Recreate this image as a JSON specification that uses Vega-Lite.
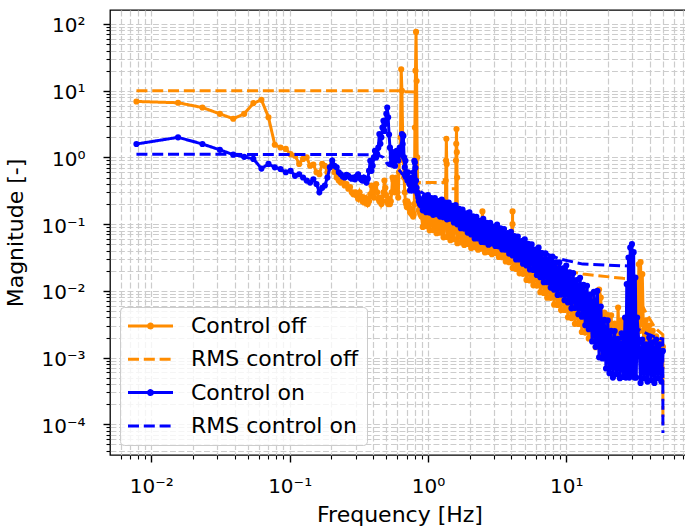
{
  "$schema": "https://vega.github.io/schema/vega-lite/v6.json",
  "width": 579,
  "height": 445,
  "autosize": "none",
  "padding": {"left": 110, "top": 10, "right": -4, "bottom": 76},
  "background": "#ffffff",
  "config": {
    "font": "DejaVu Sans",
    "view": {"stroke": "#000000", "strokeWidth": 1.3}
  },
  "datasets": {
    "off": [
      {"s":"Control off","f":0.0078,"m":6.9},{"s":"Control off","f":0.0156,"m":6.6},{"s":"Control off","f":0.0234,"m":5.6},{"s":"Control off","f":0.0313,"m":4.5},
      {"s":"Control off","f":0.0391,"m":3.8},{"s":"Control off","f":0.0469,"m":4.5},{"s":"Control off","f":0.0547,"m":6.5},{"s":"Control off","f":0.0625,"m":7.3},
      {"s":"Control off","f":0.0703,"m":4.0},{"s":"Control off","f":0.0781,"m":1.55},{"s":"Control off","f":0.0859,"m":1.41},{"s":"Control off","f":0.0938,"m":1.34},
      {"s":"Control off","f":0.1016,"m":1.12},{"s":"Control off","f":0.1094,"m":1.06},{"s":"Control off","f":0.1172,"m":0.8},{"s":"Control off","f":0.125,"m":0.95},
      {"s":"Control off","f":0.1328,"m":1.0},{"s":"Control off","f":0.1406,"m":0.75},{"s":"Control off","f":0.1484,"m":0.78},{"s":"Control off","f":0.1563,"m":0.6},
      {"s":"Control off","f":0.1641,"m":0.56},{"s":"Control off","f":0.1719,"m":0.8},{"s":"Control off","f":0.1797,"m":0.75},{"s":"Control off","f":0.1875,"m":0.6},
      {"s":"Control off","f":0.1953,"m":0.71},{"s":"Control off","f":0.2031,"m":0.8},{"s":"Control off","f":0.2109,"m":0.6},{"s":"Control off","f":0.2188,"m":0.5},
      {"s":"Control off","f":0.2266,"m":0.45},{"s":"Control off","f":0.2344,"m":0.42},{"s":"Control off","f":0.2422,"m":0.45},{"s":"Control off","f":0.25,"m":0.38},
      {"s":"Control off","f":0.2578,"m":0.4},{"s":"Control off","f":0.2656,"m":0.34},{"s":"Control off","f":0.2734,"m":0.36},{"s":"Control off","f":0.2813,"m":0.3},
      {"s":"Control off","f":0.2891,"m":0.28},{"s":"Control off","f":0.2969,"m":0.3},{"s":"Control off","f":0.3047,"m":0.27},{"s":"Control off","f":0.3125,"m":0.24},
      {"s":"Control off","f":0.3203,"m":0.3},{"s":"Control off","f":0.3281,"m":0.26},{"s":"Control off","f":0.3359,"m":0.22},{"s":"Control off","f":0.3438,"m":0.25},
      {"s":"Control off","f":0.3516,"m":0.21},{"s":"Control off","f":0.3594,"m":0.24},{"s":"Control off","f":0.3672,"m":0.2},{"s":"Control off","f":0.375,"m":0.22},
      {"s":"Control off","f":0.3828,"m":0.28},{"s":"Control off","f":0.3906,"m":0.38},{"s":"Control off","f":0.3984,"m":0.3},{"s":"Control off","f":0.4063,"m":0.25},
      {"s":"Control off","f":0.4141,"m":0.35},{"s":"Control off","f":0.4219,"m":0.4},{"s":"Control off","f":0.4297,"m":0.3},{"s":"Control off","f":0.4375,"m":0.24},
      {"s":"Control off","f":0.4453,"m":0.22},{"s":"Control off","f":0.4531,"m":0.25},{"s":"Control off","f":0.4609,"m":0.2},{"s":"Control off","f":0.4688,"m":0.22},
      {"s":"Control off","f":0.4766,"m":0.3},{"s":"Control off","f":0.4844,"m":0.45},{"s":"Control off","f":0.4922,"m":0.35},{"s":"Control off","f":0.5,"m":0.27},
      {"s":"Control off","f":0.5078,"m":0.22},{"s":"Control off","f":0.5156,"m":0.2},{"s":"Control off","f":0.5234,"m":0.24},{"s":"Control off","f":0.5313,"m":0.2},
      {"s":"Control off","f":0.5391,"m":0.22},{"s":"Control off","f":0.5469,"m":0.3},{"s":"Control off","f":0.5547,"m":0.5},{"s":"Control off","f":0.5625,"m":0.45},
      {"s":"Control off","f":0.5703,"m":0.35},{"s":"Control off","f":0.5781,"m":0.3},{"s":"Control off","f":0.5859,"m":0.4},{"s":"Control off","f":0.5938,"m":0.5},
      {"s":"Control off","f":0.6016,"m":0.3},{"s":"Control off","f":0.6094,"m":0.25},{"s":"Control off","f":0.6172,"m":0.6},{"s":"Control off","f":0.625,"m":1.1},
      {"s":"Control off","f":0.6328,"m":2.0},{"s":"Control off","f":0.6406,"m":21},{"s":"Control off","f":0.6484,"m":10},{"s":"Control off","f":0.6563,"m":2.2},
      {"s":"Control off","f":0.6641,"m":0.9},{"s":"Control off","f":0.6719,"m":0.5},{"s":"Control off","f":0.6797,"m":0.3},{"s":"Control off","f":0.6875,"m":0.22},
      {"s":"Control off","f":0.6953,"m":0.2},{"s":"Control off","f":0.7031,"m":0.18},{"s":"Control off","f":0.7109,"m":0.22},{"s":"Control off","f":0.7188,"m":0.19},
      {"s":"Control off","f":0.7266,"m":0.2},{"s":"Control off","f":0.7344,"m":0.17},{"s":"Control off","f":0.7422,"m":0.15},{"s":"Control off","f":0.75,"m":0.17},
      {"s":"Control off","f":0.7578,"m":0.16},{"s":"Control off","f":0.7656,"m":0.14},{"s":"Control off","f":0.7734,"m":0.15},{"s":"Control off","f":0.7813,"m":0.13},
      {"s":"Control off","f":0.7891,"m":0.14},{"s":"Control off","f":0.7969,"m":0.2},{"s":"Control off","f":0.8047,"m":2.8},{"s":"Control off","f":0.8125,"m":20},
      {"s":"Control off","f":0.8203,"m":76},{"s":"Control off","f":0.8281,"m":14},{"s":"Control off","f":0.8359,"m":1.0},{"s":"Control off","f":0.8438,"m":0.3},
      {"s":"Control off","f":0.8516,"m":0.2},{"s":"Control off","f":0.8594,"m":0.16},{"s":"Control off","f":0.8672,"m":0.17},{"s":"Control off","f":0.875,"m":0.15},
      {"s":"Control off","f":0.8828,"m":0.14},{"s":"Control off","f":0.8906,"m":0.16},{"s":"Control off","f":0.8984,"m":0.13},
      {"s":"Control off","f":0.9173,"m":0.0908},{"s":"Control off","f":0.9441,"m":0.208},{"s":"Control off","f":0.9716,"m":0.0935},{"s":"Control off","f":1.0,"m":0.208},
      {"s":"Control off","f":1.029,"m":0.0807},{"s":"Control off","f":1.059,"m":0.208},{"s":"Control off","f":1.09,"m":0.0815},{"s":"Control off","f":1.122,"m":0.176},
      {"s":"Control off","f":1.155,"m":0.0731},{"s":"Control off","f":1.189,"m":0.176},{"s":"Control off","f":1.223,"m":0.0745},{"s":"Control off","f":1.259,"m":0.171},
      {"s":"Control off","f":1.296,"m":0.0634},{"s":"Control off","f":1.334,"m":0.171},
      {"s":"Control off","f":1.344,"m":0.45},{"s":"Control off","f":1.352,"m":0.9},{"s":"Control off","f":1.359,"m":1.9},{"s":"Control off","f":1.367,"m":0.8},
      {"s":"Control off","f":1.373,"m":0.0641},{"s":"Control off","f":1.413,"m":0.144},{"s":"Control off","f":1.454,"m":0.0574},{"s":"Control off","f":1.496,"m":0.144},
      {"s":"Control off","f":1.54,"m":0.0597},{"s":"Control off","f":1.585,"m":0.139},
      {"s":"Control off","f":1.594,"m":0.9},{"s":"Control off","f":1.602,"m":1.6},{"s":"Control off","f":1.609,"m":2.67},{"s":"Control off","f":1.617,"m":1.2},{"s":"Control off","f":1.625,"m":0.5},
      {"s":"Control off","f":1.631,"m":0.0519},{"s":"Control off","f":1.679,"m":0.138},{"s":"Control off","f":1.728,"m":0.0533},{"s":"Control off","f":1.778,"m":0.116},
      {"s":"Control off","f":1.83,"m":0.0488},{"s":"Control off","f":1.884,"m":0.116},{"s":"Control off","f":1.939,"m":0.0506},{"s":"Control off","f":1.995,"m":0.112},
      {"s":"Control off","f":2.054,"m":0.0441},{"s":"Control off","f":2.113,"m":0.111},{"s":"Control off","f":2.175,"m":0.0452},{"s":"Control off","f":2.239,"m":0.0944},
      {"s":"Control off","f":2.304,"m":0.0414},{"s":"Control off","f":2.371,"m":0.0938},{"s":"Control off","f":2.441,"m":0.0429},{"s":"Control off","f":2.477,"m":0.155},
      {"s":"Control off","f":2.512,"m":0.0912},{"s":"Control off","f":2.585,"m":0.0376},{"s":"Control off","f":2.661,"m":0.0912},{"s":"Control off","f":2.738,"m":0.0385},
      {"s":"Control off","f":2.818,"m":0.0782},{"s":"Control off","f":2.901,"m":0.0355},{"s":"Control off","f":2.985,"m":0.0782},{"s":"Control off","f":3.073,"m":0.0366},
      {"s":"Control off","f":3.162,"m":0.076},{"s":"Control off","f":3.255,"m":0.0322},{"s":"Control off","f":3.35,"m":0.0759},{"s":"Control off","f":3.447,"m":0.032},
      {"s":"Control off","f":3.548,"m":0.0631},{"s":"Control off","f":3.652,"m":0.0276},{"s":"Control off","f":3.758,"m":0.0611},{"s":"Control off","f":3.868,"m":0.0269},
      {"s":"Control off","f":3.981,"m":0.0575},{"s":"Control off","f":4.086,"m":0.1},{"s":"Control off","f":4.092,"m":0.155},
      {"s":"Control off","f":4.097,"m":0.0221},{"s":"Control off","f":4.217,"m":0.056},{"s":"Control off","f":4.34,"m":0.0213},{"s":"Control off","f":4.467,"m":0.0459},
      {"s":"Control off","f":4.597,"m":0.0183},{"s":"Control off","f":4.732,"m":0.0447},{"s":"Control off","f":4.87,"m":0.018},{"s":"Control off","f":5.012,"m":0.0423},
      {"s":"Control off","f":5.158,"m":0.0146},{"s":"Control off","f":5.309,"m":0.0413},{"s":"Control off","f":5.464,"m":0.0143},{"s":"Control off","f":5.623,"m":0.0335},
      {"s":"Control off","f":5.788,"m":0.0121},{"s":"Control off","f":5.957,"m":0.0327},{"s":"Control off","f":6.131,"m":0.012},{"s":"Control off","f":6.31,"m":0.031},
      {"s":"Control off","f":6.494,"m":0.00955},{"s":"Control off","f":6.683,"m":0.0304},{"s":"Control off","f":6.879,"m":0.00933},{"s":"Control off","f":7.079,"m":0.0243},
      {"s":"Control off","f":7.286,"m":0.00791},{"s":"Control off","f":7.499,"m":0.0239},{"s":"Control off","f":7.718,"m":0.00787},{"s":"Control off","f":7.943,"m":0.0226},
      {"s":"Control off","f":8.175,"m":0.00621},{"s":"Control off","f":8.414,"m":0.0224},{"s":"Control off","f":8.66,"m":0.00614},{"s":"Control off","f":8.913,"m":0.0176},
      {"s":"Control off","f":9.173,"m":0.00515},{"s":"Control off","f":9.441,"m":0.0174},{"s":"Control off","f":9.716,"m":0.00518},{"s":"Control off","f":10.0,"m":0.0166},
      {"s":"Control off","f":10.29,"m":0.00401},{"s":"Control off","f":10.59,"m":0.016},{"s":"Control off","f":10.9,"m":0.00391},{"s":"Control off","f":11.22,"m":0.012},
      {"s":"Control off","f":11.55,"m":0.00321},{"s":"Control off","f":11.89,"m":0.0116},{"s":"Control off","f":12.23,"m":0.00319},{"s":"Control off","f":12.59,"m":0.0107},
      {"s":"Control off","f":12.96,"m":0.00242},{"s":"Control off","f":13.34,"m":0.0104},{"s":"Control off","f":13.73,"m":0.00237},{"s":"Control off","f":14.13,"m":0.00776},
      {"s":"Control off","f":14.54,"m":0.00194},{"s":"Control off","f":14.96,"m":0.00752},{"s":"Control off","f":15.4,"m":0.00194},{"s":"Control off","f":15.85,"m":0.00693},
      {"s":"Control off","f":16.31,"m":0.00143},{"s":"Control off","f":16.79,"m":0.00668},{"s":"Control off","f":17.28,"m":0.0105},{"s":"Control off","f":17.78,"m":0.00794},
      {"s":"Control off","f":18.3,"m":0.00107},{"s":"Control off","f":18.84,"m":0.00472},{"s":"Control off","f":19.39,"m":0.00109},{"s":"Control off","f":19.95,"m":0.00435},
      {"s":"Control off","f":20.54,"m":0.000794},{"s":"Control off","f":21.13,"m":0.0043},{"s":"Control off","f":21.75,"m":0.00083},{"s":"Control off","f":22.39,"m":0.00324},
      {"s":"Control off","f":23.04,"m":0.000705},{"s":"Control off","f":23.71,"m":0.00562},{"s":"Control off","f":24.41,"m":0.00075},{"s":"Control off","f":25.12,"m":0.00363},
      {"s":"Control off","f":25.85,"m":0.000708},{"s":"Control off","f":26.61,"m":0.00316},{"s":"Control off","f":27.38,"m":0.000708},{"s":"Control off","f":28.18,"m":0.00282},
      {"s":"Control off","f":29.01,"m":0.000631},{"s":"Control off","f":29.85,"m":0.00355},{"s":"Control off","f":30.73,"m":0.000794},{"s":"Control off","f":31.62,"m":0.0063},
      {"s":"Control off","f":32.55,"m":0.0126},{"s":"Control off","f":33.02,"m":0.00126},{"s":"Control off","f":33.5,"m":0.0251},{"s":"Control off","f":33.98,"m":0.00251},
      {"s":"Control off","f":34.47,"m":0.0269},{"s":"Control off","f":34.99,"m":0.00316},{"s":"Control off","f":35.48,"m":0.0178},{"s":"Control off","f":36.52,"m":0.000794},
      {"s":"Control off","f":37.58,"m":0.00363},{"s":"Control off","f":38.68,"m":0.000708},{"s":"Control off","f":39.81,"m":0.00302},{"s":"Control off","f":40.97,"m":0.000631},
      {"s":"Control off","f":42.17,"m":0.00251},{"s":"Control off","f":43.4,"m":0.000794},{"s":"Control off","f":44.67,"m":0.00209},{"s":"Control off","f":45.97,"m":0.000631},
      {"s":"Control off","f":47.32,"m":0.00174},{"s":"Control off","f":48.7,"m":0.000708},{"s":"Control off","f":50.0,"m":0.00145}
    ],
    "offrms": [
      {"s":"RMS control off","f":0.0078,"m":10.0},{"s":"RMS control off","f":0.6406,"m":10.0},{"s":"RMS control off","f":0.6484,"m":9.7},
      {"s":"RMS control off","f":0.8125,"m":9.6},{"s":"RMS control off","f":0.8281,"m":0.42},{"s":"RMS control off","f":1.344,"m":0.42},
      {"s":"RMS control off","f":1.359,"m":0.34},{"s":"RMS control off","f":1.609,"m":0.34},{"s":"RMS control off","f":1.625,"m":0.12},
      {"s":"RMS control off","f":2.0,"m":0.085},{"s":"RMS control off","f":3.0,"m":0.05},{"s":"RMS control off","f":5.0,"m":0.03},
      {"s":"RMS control off","f":7.0,"m":0.024},{"s":"RMS control off","f":8.5,"m":0.0213},{"s":"RMS control off","f":13.2,"m":0.0179},
      {"s":"RMS control off","f":25.7,"m":0.0154},{"s":"RMS control off","f":33.0,"m":0.015},{"s":"RMS control off","f":35.5,"m":0.006},
      {"s":"RMS control off","f":38.2,"m":0.0045},{"s":"RMS control off","f":43.8,"m":0.0028},{"s":"RMS control off","f":49.9,"m":0.0022},
      {"s":"RMS control off","f":50.0,"m":0.0001}
    ],
    "on": [
      {"s":"Control on","f":0.0078,"m":1.59},{"s":"Control on","f":0.0156,"m":2.0},{"s":"Control on","f":0.0234,"m":1.59},{"s":"Control on","f":0.0313,"m":1.3},
      {"s":"Control on","f":0.0391,"m":1.1},{"s":"Control on","f":0.0469,"m":1.02},{"s":"Control on","f":0.0547,"m":0.95},{"s":"Control on","f":0.0625,"m":0.68},
      {"s":"Control on","f":0.0703,"m":0.8},{"s":"Control on","f":0.0781,"m":0.71},{"s":"Control on","f":0.0859,"m":0.67},{"s":"Control on","f":0.0938,"m":0.6},
      {"s":"Control on","f":0.1016,"m":0.63},{"s":"Control on","f":0.1094,"m":0.53},{"s":"Control on","f":0.1172,"m":0.56},{"s":"Control on","f":0.125,"m":0.5},
      {"s":"Control on","f":0.1328,"m":0.45},{"s":"Control on","f":0.1406,"m":0.42},{"s":"Control on","f":0.1484,"m":0.47},{"s":"Control on","f":0.1563,"m":0.4},
      {"s":"Control on","f":0.1641,"m":0.3},{"s":"Control on","f":0.1719,"m":0.35},{"s":"Control on","f":0.1797,"m":0.38},{"s":"Control on","f":0.1875,"m":0.5},
      {"s":"Control on","f":0.1953,"m":0.71},{"s":"Control on","f":0.2031,"m":0.9},{"s":"Control on","f":0.2109,"m":0.75},{"s":"Control on","f":0.2188,"m":0.71},
      {"s":"Control on","f":0.2266,"m":0.6},{"s":"Control on","f":0.2344,"m":0.56},{"s":"Control on","f":0.2422,"m":0.52},{"s":"Control on","f":0.25,"m":0.5},
      {"s":"Control on","f":0.2578,"m":0.55},{"s":"Control on","f":0.2656,"m":0.53},{"s":"Control on","f":0.2734,"m":0.5},{"s":"Control on","f":0.2813,"m":0.48},
      {"s":"Control on","f":0.2891,"m":0.5},{"s":"Control on","f":0.2969,"m":0.47},{"s":"Control on","f":0.3047,"m":0.52},{"s":"Control on","f":0.3125,"m":0.56},
      {"s":"Control on","f":0.3203,"m":0.5},{"s":"Control on","f":0.3281,"m":0.47},{"s":"Control on","f":0.3359,"m":0.45},{"s":"Control on","f":0.3438,"m":0.5},
      {"s":"Control on","f":0.3516,"m":0.45},{"s":"Control on","f":0.3594,"m":0.42},{"s":"Control on","f":0.3672,"m":0.48},{"s":"Control on","f":0.375,"m":0.63},
      {"s":"Control on","f":0.3828,"m":0.89},{"s":"Control on","f":0.3906,"m":0.63},{"s":"Control on","f":0.3984,"m":0.75},{"s":"Control on","f":0.4063,"m":1.0},
      {"s":"Control on","f":0.4141,"m":1.26},{"s":"Control on","f":0.4219,"m":1.0},{"s":"Control on","f":0.4297,"m":1.12},{"s":"Control on","f":0.4375,"m":1.4},
      {"s":"Control on","f":0.4453,"m":2.24},{"s":"Control on","f":0.4531,"m":1.6},{"s":"Control on","f":0.4609,"m":2.0},{"s":"Control on","f":0.4688,"m":2.8},
      {"s":"Control on","f":0.4766,"m":3.55},{"s":"Control on","f":0.4844,"m":2.5},{"s":"Control on","f":0.4922,"m":3.2},{"s":"Control on","f":0.5,"m":4.5},
      {"s":"Control on","f":0.5078,"m":5.6},{"s":"Control on","f":0.5156,"m":4.0},{"s":"Control on","f":0.5234,"m":2.2},{"s":"Control on","f":0.5313,"m":1.4},
      {"s":"Control on","f":0.5391,"m":0.8},{"s":"Control on","f":0.5469,"m":1.0},{"s":"Control on","f":0.5547,"m":1.2},{"s":"Control on","f":0.5625,"m":0.9},
      {"s":"Control on","f":0.5703,"m":1.1},{"s":"Control on","f":0.5781,"m":0.75},{"s":"Control on","f":0.5859,"m":1.0},{"s":"Control on","f":0.5938,"m":1.26},
      {"s":"Control on","f":0.6016,"m":1.12},{"s":"Control on","f":0.6094,"m":0.9},{"s":"Control on","f":0.6172,"m":1.12},{"s":"Control on","f":0.625,"m":1.41},
      {"s":"Control on","f":0.6328,"m":1.1},{"s":"Control on","f":0.6406,"m":1.2},{"s":"Control on","f":0.6484,"m":2.24},{"s":"Control on","f":0.6563,"m":1.59},
      {"s":"Control on","f":0.6641,"m":2.1},{"s":"Control on","f":0.6719,"m":1.0},{"s":"Control on","f":0.6797,"m":0.71},{"s":"Control on","f":0.6875,"m":0.89},
      {"s":"Control on","f":0.6953,"m":0.6},{"s":"Control on","f":0.7031,"m":0.5},{"s":"Control on","f":0.7109,"m":0.45},{"s":"Control on","f":0.7188,"m":0.6},
      {"s":"Control on","f":0.7266,"m":0.45},{"s":"Control on","f":0.7344,"m":0.4},{"s":"Control on","f":0.7422,"m":0.32},{"s":"Control on","f":0.75,"m":0.38},
      {"s":"Control on","f":0.7578,"m":0.45},{"s":"Control on","f":0.7656,"m":0.5},{"s":"Control on","f":0.7734,"m":0.32},{"s":"Control on","f":0.7813,"m":0.4},
      {"s":"Control on","f":0.7891,"m":0.6},{"s":"Control on","f":0.7969,"m":0.89},{"s":"Control on","f":0.8047,"m":0.84},{"s":"Control on","f":0.8125,"m":0.7},
      {"s":"Control on","f":0.8203,"m":0.45},{"s":"Control on","f":0.8281,"m":0.35},{"s":"Control on","f":0.8359,"m":0.3},{"s":"Control on","f":0.8438,"m":0.28},
      {"s":"Control on","f":0.8516,"m":0.25},{"s":"Control on","f":0.8594,"m":0.22},{"s":"Control on","f":0.8672,"m":0.24},{"s":"Control on","f":0.875,"m":0.2},
      {"s":"Control on","f":0.8828,"m":0.22},{"s":"Control on","f":0.8906,"m":0.19},{"s":"Control on","f":0.8984,"m":0.21},
      {"s":"Control on","f":0.9173,"m":0.161},{"s":"Control on","f":0.9441,"m":0.255},{"s":"Control on","f":0.9716,"m":0.151},{"s":"Control on","f":1.0,"m":0.272},
      {"s":"Control on","f":1.029,"m":0.149},{"s":"Control on","f":1.059,"m":0.246},{"s":"Control on","f":1.09,"m":0.138},{"s":"Control on","f":1.122,"m":0.245},
      {"s":"Control on","f":1.155,"m":0.141},{"s":"Control on","f":1.189,"m":0.222},{"s":"Control on","f":1.223,"m":0.13},{"s":"Control on","f":1.259,"m":0.233},
      {"s":"Control on","f":1.296,"m":0.127},{"s":"Control on","f":1.334,"m":0.21},{"s":"Control on","f":1.373,"m":0.118},{"s":"Control on","f":1.413,"m":0.21},
      {"s":"Control on","f":1.454,"m":0.121},{"s":"Control on","f":1.496,"m":0.1875},{"s":"Control on","f":1.54,"m":0.106},{"s":"Control on","f":1.585,"m":0.193},
      {"s":"Control on","f":1.631,"m":0.0993},{"s":"Control on","f":1.679,"m":0.169},{"s":"Control on","f":1.728,"m":0.0871},{"s":"Control on","f":1.778,"m":0.166},
      {"s":"Control on","f":1.83,"m":0.0859},{"s":"Control on","f":1.884,"m":0.145},{"s":"Control on","f":1.939,"m":0.0748},{"s":"Control on","f":1.995,"m":0.151},
      {"s":"Control on","f":2.054,"m":0.0701},{"s":"Control on","f":2.113,"m":0.131},{"s":"Control on","f":2.175,"m":0.0612},{"s":"Control on","f":2.239,"m":0.129},
      {"s":"Control on","f":2.304,"m":0.061},{"s":"Control on","f":2.371,"m":0.112},{"s":"Control on","f":2.441,"m":0.0541},{"s":"Control on","f":2.512,"m":0.12},
      {"s":"Control on","f":2.585,"m":0.0536},{"s":"Control on","f":2.661,"m":0.105},{"s":"Control on","f":2.738,"m":0.0492},{"s":"Control on","f":2.818,"m":0.105},
      {"s":"Control on","f":2.901,"m":0.0515},{"s":"Control on","f":2.985,"m":0.0923},{"s":"Control on","f":3.073,"m":0.047},{"s":"Control on","f":3.162,"m":0.0982},
      {"s":"Control on","f":3.255,"m":0.0465},{"s":"Control on","f":3.35,"m":0.0865},{"s":"Control on","f":3.447,"m":0.0418},{"s":"Control on","f":3.548,"m":0.0847},
      {"s":"Control on","f":3.652,"m":0.0415},{"s":"Control on","f":3.758,"m":0.0733},{"s":"Control on","f":3.868,"m":0.0361},{"s":"Control on","f":3.981,"m":0.0767},
      {"s":"Control on","f":4.097,"m":0.0339},{"s":"Control on","f":4.217,"m":0.0661},{"s":"Control on","f":4.34,"m":0.0296},{"s":"Control on","f":4.467,"m":0.0652},
      {"s":"Control on","f":4.597,"m":0.0296},{"s":"Control on","f":4.732,"m":0.0558},{"s":"Control on","f":4.87,"m":0.0255},{"s":"Control on","f":5.012,"m":0.0592},
      {"s":"Control on","f":5.158,"m":0.0241},{"s":"Control on","f":5.309,"m":0.0505},{"s":"Control on","f":5.464,"m":0.0209},{"s":"Control on","f":5.623,"m":0.0497},
      {"s":"Control on","f":5.788,"m":0.0206},{"s":"Control on","f":5.957,"m":0.0417},{"s":"Control on","f":6.131,"m":0.0173},{"s":"Control on","f":6.31,"m":0.0444},
      {"s":"Control on","f":6.494,"m":0.016},{"s":"Control on","f":6.683,"m":0.0369},{"s":"Control on","f":6.879,"m":0.0135},{"s":"Control on","f":7.079,"m":0.0364},
      {"s":"Control on","f":7.286,"m":0.0135},{"s":"Control on","f":7.499,"m":0.0301},{"s":"Control on","f":7.718,"m":0.0112},{"s":"Control on","f":7.943,"m":0.0326},
      {"s":"Control on","f":8.175,"m":0.0104},{"s":"Control on","f":8.414,"m":0.0268},{"s":"Control on","f":8.66,"m":0.00869},{"s":"Control on","f":8.913,"m":0.0267},
      {"s":"Control on","f":9.173,"m":0.00881},{"s":"Control on","f":9.441,"m":0.0217},{"s":"Control on","f":9.716,"m":0.00726},{"s":"Control on","f":10.0,"m":0.024},
      {"s":"Control on","f":10.29,"m":0.00671},{"s":"Control on","f":10.59,"m":0.0189},{"s":"Control on","f":10.9,"m":0.00548},{"s":"Control on","f":11.22,"m":0.0184},
      {"s":"Control on","f":11.55,"m":0.00553},{"s":"Control on","f":11.89,"m":0.0145},{"s":"Control on","f":12.23,"m":0.00446},{"s":"Control on","f":12.59,"m":0.0157},
      {"s":"Control on","f":12.96,"m":0.0041},{"s":"Control on","f":13.34,"m":0.0123},{"s":"Control on","f":13.73,"m":0.00305},{"s":"Control on","f":14.13,"m":0.0119},
      {"s":"Control on","f":14.54,"m":0.00266},{"s":"Control on","f":14.96,"m":0.00883},{"s":"Control on","f":15.4,"m":0.00175},{"s":"Control on","f":15.85,"m":0.00964},
      {"s":"Control on","f":16.31,"m":0.00145},{"s":"Control on","f":16.79,"m":0.01},{"s":"Control on","f":17.28,"m":0.00101},{"s":"Control on","f":17.78,"m":0.00583},
      {"s":"Control on","f":18.3,"m":0.000973},{"s":"Control on","f":18.84,"m":0.00367},{"s":"Control on","f":19.39,"m":0.000686},{"s":"Control on","f":19.95,"m":0.00363},
      {"s":"Control on","f":20.54,"m":0.000585},{"s":"Control on","f":21.13,"m":0.00251},{"s":"Control on","f":21.75,"m":0.000501},{"s":"Control on","f":22.39,"m":0.0025},
      {"s":"Control on","f":23.04,"m":0.000565},{"s":"Control on","f":23.71,"m":0.00191},{"s":"Control on","f":24.41,"m":0.000491},{"s":"Control on","f":25.12,"m":0.00231},
      {"s":"Control on","f":25.85,"m":0.000514},{"s":"Control on","f":26.61,"m":0.00398},{"s":"Control on","f":26.99,"m":0.000501},{"s":"Control on","f":27.38,"m":0.0126},
      {"s":"Control on","f":27.79,"m":0.000562},{"s":"Control on","f":28.18,"m":0.0316},{"s":"Control on","f":28.59,"m":0.000501},{"s":"Control on","f":29.01,"m":0.0447},
      {"s":"Control on","f":29.43,"m":0.000631},{"s":"Control on","f":29.85,"m":0.0501},{"s":"Control on","f":30.29,"m":0.000562},{"s":"Control on","f":30.73,"m":0.038},
      {"s":"Control on","f":31.17,"m":0.000501},{"s":"Control on","f":31.62,"m":0.0158},{"s":"Control on","f":32.08,"m":0.000501},{"s":"Control on","f":32.55,"m":0.00398},
      {"s":"Control on","f":33.5,"m":0.0017},{"s":"Control on","f":34.47,"m":0.000417},{"s":"Control on","f":35.48,"m":0.00186},{"s":"Control on","f":36.52,"m":0.00049},
      {"s":"Control on","f":37.58,"m":0.00158},{"s":"Control on","f":38.68,"m":0.000437},{"s":"Control on","f":39.81,"m":0.002},{"s":"Control on","f":40.97,"m":0.000457},
      {"s":"Control on","f":42.17,"m":0.0017},{"s":"Control on","f":43.4,"m":0.000417},{"s":"Control on","f":44.67,"m":0.00186},{"s":"Control on","f":45.97,"m":0.00049},
      {"s":"Control on","f":47.32,"m":0.00158},{"s":"Control on","f":48.7,"m":0.000437},{"s":"Control on","f":50.0,"m":0.00126}
    ],
    "onrms": [
      {"s":"RMS control on","f":0.0078,"m":1.12},{"s":"RMS control on","f":0.4297,"m":1.1},{"s":"RMS control on","f":0.4766,"m":1.0},
      {"s":"RMS control on","f":0.5078,"m":0.8},{"s":"RMS control on","f":0.52,"m":0.76},{"s":"RMS control on","f":0.6,"m":0.7},
      {"s":"RMS control on","f":0.66,"m":0.55},{"s":"RMS control on","f":0.7,"m":0.42},{"s":"RMS control on","f":0.8,"m":0.34},
      {"s":"RMS control on","f":0.9,"m":0.3},{"s":"RMS control on","f":1.0,"m":0.26},{"s":"RMS control on","f":1.5,"m":0.17},
      {"s":"RMS control on","f":2.0,"m":0.11},{"s":"RMS control on","f":4.0,"m":0.058},{"s":"RMS control on","f":5.5,"m":0.045},
      {"s":"RMS control on","f":6.8,"m":0.0377},{"s":"RMS control on","f":9.0,"m":0.03},{"s":"RMS control on","f":13.2,"m":0.0252},
      {"s":"RMS control on","f":20.0,"m":0.0243},{"s":"RMS control on","f":25.7,"m":0.0238},{"s":"RMS control on","f":28.5,"m":0.0235},
      {"s":"RMS control on","f":29.5,"m":0.003},{"s":"RMS control on","f":35.0,"m":0.0025},{"s":"RMS control on","f":40.0,"m":0.0022},
      {"s":"RMS control on","f":45.0,"m":0.002},{"s":"RMS control on","f":49.9,"m":0.0019},{"s":"RMS control on","f":50.0,"m":0.000074}
    ]
  },
  "encoding": {
    "x": {
      "field": "f", "type": "quantitative",
      "scale": {"type": "log", "domain": [0.005023, 77.2], "nice": false},
      "axis": {
        "title": "Frequency [Hz]",
        "values": [0.006,0.007,0.008,0.009,0.01,0.02,0.03,0.04,0.05,0.06,0.07,0.08,0.09,0.1,0.2,0.3,0.4,0.5,0.6,0.7,0.8,0.9,1,2,3,4,5,6,7,8,9,10,20,30,40,50,60,70],
        "labelExpr": "abs(log(datum.value)/LN10-round(log(datum.value)/LN10))<1e-4 ? ['10⁻⁴','10⁻³','10⁻²','10⁻¹','10⁰','10¹','10²'][round(log(datum.value)/LN10)+4] : ''",
        "grid": true, "gridColor": "#cccccc", "gridWidth": 1.2, "gridDash": [5.9, 2.6],
        "domain": false,
        "tickColor": "#000000",
        "tickSize": {"condition": {"test": "abs(log(datum.value)/LN10-round(log(datum.value)/LN10))<1e-4", "value": 7}, "value": 4},
        "tickWidth": {"condition": {"test": "abs(log(datum.value)/LN10-round(log(datum.value)/LN10))<1e-4", "value": 1.4}, "value": 1.1},
        "labelFontSize": 20, "labelColor": "#000000", "labelPadding": 14,
        "labelAlign": "center", "labelBaseline": "top",
        "labelOverlap": false, "labelFlush": false,
        "titleFontSize": 22, "titleFontWeight": "normal", "titleColor": "#000000", "titlePadding": 8
      }
    },
    "y": {
      "field": "m", "type": "quantitative",
      "scale": {"type": "log", "domain": [3.468e-5, 162.1], "nice": false},
      "axis": {
        "title": "Magnitude [-]",
        "values": [0.00004,0.00005,0.00006,0.00007,0.00008,0.00009,0.0001,0.0002,0.0003,0.0004,0.0005,0.0006,0.0007,0.0008,0.0009,0.001,0.002,0.003,0.004,0.005,0.006,0.007,0.008,0.009,0.01,0.02,0.03,0.04,0.05,0.06,0.07,0.08,0.09,0.1,0.2,0.3,0.4,0.5,0.6,0.7,0.8,0.9,1,2,3,4,5,6,7,8,9,10,20,30,40,50,60,70,80,90,100],
        "labelExpr": "abs(log(datum.value)/LN10-round(log(datum.value)/LN10))<1e-4 ? ['10⁻⁴','10⁻³','10⁻²','10⁻¹','10⁰','10¹','10²'][round(log(datum.value)/LN10)+4] : ''",
        "grid": true, "gridColor": "#cccccc", "gridWidth": 1.2, "gridDash": [5.9, 2.6],
        "domain": false,
        "tickColor": "#000000",
        "tickSize": {"condition": {"test": "abs(log(datum.value)/LN10-round(log(datum.value)/LN10))<1e-4", "value": 7}, "value": 4},
        "tickWidth": {"condition": {"test": "abs(log(datum.value)/LN10-round(log(datum.value)/LN10))<1e-4", "value": 1.4}, "value": 1.1},
        "labelFontSize": 20, "labelColor": "#000000", "labelPadding": 18,
        "labelAlign": "right", "labelBaseline": "middle", "labelOffset": 2,
        "labelOverlap": false, "labelFlush": false,
        "titleFontSize": 22, "titleFontWeight": "normal", "titleColor": "#000000", "titlePadding": 13
      }
    },
    "color": {
      "field": "s", "type": "nominal",
      "scale": {"domain": ["Control off", "RMS control off", "Control on", "RMS control on"], "range": ["#ff8c00", "#ff8c00", "#0000ff", "#0000ff"]},
      "legend": {
        "title": null, "orient": "bottom-left", "offset": 10, "padding": 8,
        "fillColor": "rgba(255,255,255,0.8)", "strokeColor": "#cccccc", "cornerRadius": 4,
        "labelFontSize": 22, "labelColor": "#000000", "labelLimit": 0,
        "symbolType": "M-4.5,0H4.5", "symbolSize": 100, "symbolStrokeWidth": 3,
        "symbolOffset": 11.5, "labelOffset": 29.5, "rowPadding": 11.3,
        "encoding": {"symbols": {"shape": {"condition": {"test": "indexof(datum.value, 'RMS') < 0", "value": "M-4.5,0H4.5M0.4,0A0.4,0.4,0,1,1,-0.4,0A0.4,0.4,0,1,1,0.4,0Z"}, "value": "M-4.5,0H4.5"}}}
      }
    },
    "strokeDash": {
      "field": "s", "type": "nominal",
      "scale": {"domain": ["Control off", "RMS control off", "Control on", "RMS control on"], "range": [[1, 0], [11, 4.8], [1, 0], [11, 4.8]]},
      "legend": {
        "title": null, "orient": "bottom-left", "offset": 10, "padding": 8,
        "fillColor": "rgba(255,255,255,0.8)", "strokeColor": "#cccccc", "cornerRadius": 4,
        "labelFontSize": 22, "labelColor": "#000000", "labelLimit": 0,
        "symbolType": "M-4.5,0H4.5", "symbolSize": 100, "symbolStrokeWidth": 3,
        "symbolOffset": 11.5, "labelOffset": 29.5, "rowPadding": 11.3,
        "encoding": {"symbols": {"shape": {"condition": {"test": "indexof(datum.value, 'RMS') < 0", "value": "M-4.5,0H4.5M0.4,0A0.4,0.4,0,1,1,-0.4,0A0.4,0.4,0,1,1,0.4,0Z"}, "value": "M-4.5,0H4.5"}}}
      }
    }
  },
  "layer": [
    {"data": {"name": "off"}, "mark": {"type": "line", "strokeWidth": 3, "point": {"filled": true, "size": 38}}},
    {"data": {"name": "offrms"}, "mark": {"type": "line", "strokeWidth": 3}},
    {"data": {"name": "on"}, "mark": {"type": "line", "strokeWidth": 3, "point": {"filled": true, "size": 38}}},
    {"data": {"name": "onrms"}, "mark": {"type": "line", "strokeWidth": 3}}
  ]
}
